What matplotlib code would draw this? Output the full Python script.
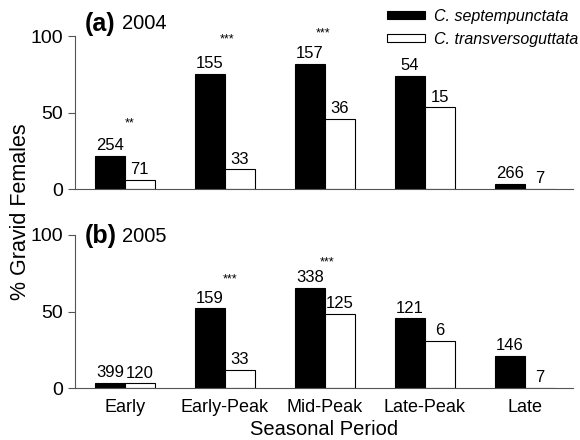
import matplotlib.pyplot as plt
import numpy as np

plt.rcParams['font.family'] = ['Liberation Sans', 'DejaVu Sans']

periods = ['Early', 'Early-Peak', 'Mid-Peak', 'Late-Peak', 'Late']

# % gravid females, 2004
sept_2004 = [22, 75.5, 82, 74, 3.7]
trans_2004 = [6.3, 13, 46, 53.5, 0]
n_sept_2004 = ['254', '155', '157', '54', '266']
n_trans_2004 = ['71', '33', '36', '15', '7']
sig_2004 = ['**', '***', '***', '', '']
sig_y_2004 = [39, 94, 98, 0, 0]

# % gravid females, 2005
sept_2005 = [3.5, 52, 65.5, 45.5, 21]
trans_2005 = [3, 12, 48.5, 31, 0]
n_sept_2005 = ['399', '159', '338', '121', '146']
n_trans_2005 = ['120', '33', '125', '6', '7']
sig_2005 = ['', '***', '***', '', '']
sig_y_2005 = [0, 67, 78, 0, 0]

x = np.arange(len(periods))
w = 0.3

fig = plt.figure(figsize=(5.8, 4.4), dpi=100)
ax1 = fig.add_axes([0.129, 0.570, 0.859, 0.348])
ax2 = fig.add_axes([0.129, 0.118, 0.859, 0.348])


def panel(ax, sept, trans, n_sept, n_trans, sig, sig_y, letter, year,
          sig_dx, label_y):
    b1 = ax.bar(x - w / 2, sept, w, color='black', edgecolor='black',
                linewidth=0.8, label='C. septempunctata')
    b2 = ax.bar(x + w / 2, trans, w, color='white', edgecolor='black',
                linewidth=0.8, label='C. transversoguttata')
    for i in range(len(x)):
        ax.annotate(n_sept[i], (x[i] - w / 2, sept[i]), xytext=(0, 2),
                    textcoords='offset points', ha='center', va='bottom',
                    fontsize=12)
        ax.annotate(n_trans[i], (x[i] + w / 2, trans[i]), xytext=(0, 2),
                    textcoords='offset points', ha='center', va='bottom',
                    fontsize=12)
        if sig[i]:
            ax.text(x[i] + sig_dx[i], sig_y[i], sig[i], ha='center',
                    va='bottom', fontsize=9)
    ax.set_xlim(-0.5, 4.48)
    ax.set_ylim(0, 100)
    ax.set_yticks([0, 50, 100])
    ax.tick_params(axis='y', labelsize=14, length=5, direction='out',
                   color='#555555')
    ax.tick_params(axis='x', length=0)
    ax.spines['top'].set_visible(False)
    ax.spines['right'].set_visible(False)
    ax.spines['left'].set_color('#555555')
    ax.spines['bottom'].set_color('#555555')
    ax.text(0.02, label_y, letter, transform=ax.transAxes, fontsize=18,
            fontweight='bold', va='center', ha='left')
    ax.text(0.094, label_y, year, transform=ax.transAxes, fontsize=14.5,
            va='center', ha='left')
    return b1, b2


h1, h2 = panel(ax1, sept_2004, trans_2004, n_sept_2004, n_trans_2004,
               sig_2004, sig_y_2004, '(a)', '2004', [0.05, 0.02, -0.02, 0, 0],
               1.08)
ax1.set_xticks(x)
ax1.set_xticklabels([])

panel(ax2, sept_2005, trans_2005, n_sept_2005, n_trans_2005,
      sig_2005, sig_y_2005, '(b)', '2005', [0, 0.05, 0.02, 0, 0], 0.99)
ax2.set_xticks(x)
ax2.set_xticklabels(periods, fontsize=13)
ax2.tick_params(axis='x', pad=8)
ax2.set_xlabel('Seasonal Period', fontsize=14.5, labelpad=3)

leg = fig.legend(handles=[h1, h2], loc='upper right',
                 bbox_to_anchor=(0.997, 0.98), frameon=False,
                 borderpad=0, borderaxespad=0,
                 handlelength=2.4, handleheight=0.45, labelspacing=0.5,
                 handletextpad=0.55,
                 prop={'style': 'italic', 'size': 11.5})

fig.text(0.035, 0.52, '% Gravid Females', rotation=90, fontsize=15.5,
         ha='center', va='center')

fig.savefig('out.png', dpi=100)
